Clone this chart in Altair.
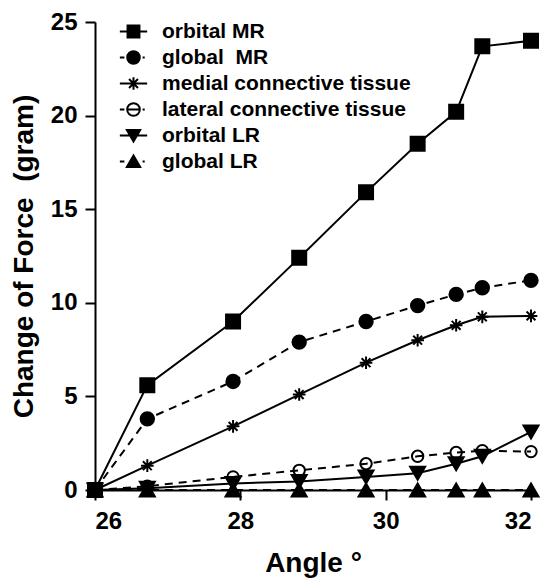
import altair as alt
import pandas as pd

# ---- data ----
angle = [26, 26.72, 27.9, 28.81, 29.73, 30.44, 30.97, 31.33, 32]
orbital_MR = [0, 5.6, 9.0, 12.4, 15.9, 18.5, 20.2, 23.7, 24.0]
global_MR = [0, 3.8, 5.8, 7.9, 9.0, 9.85, 10.45, 10.8, 11.2]
medial_CT = [0, 1.3, 3.4, 5.1, 6.8, 8.0, 8.8, 9.25, 9.3]
lateral_CT = [0, 0.2, 0.7, 1.05, 1.4, 1.8, 2.0, 2.1, 2.05]
orbital_LR = [0, 0.1, 0.35, 0.45, 0.7, 0.9, 1.4, 1.8, 3.1]
global_LR = [0, 0, 0, 0, 0, 0, 0, 0, 0]

names = ["orbital MR", "global\u00a0 MR", "medial connective tissue",
         "lateral connective tissue", "orbital LR", "global LR"]
series_values = [orbital_MR, global_MR, medial_CT, lateral_CT, orbital_LR, global_LR]

x_ticks = [26, 28, 30, 32]
y_ticks = [0, 5, 10, 15, 20, 25]

rows = []
for name, vals in zip(names, series_values):
    for a, v in zip(angle, vals):
        rows.append({"series": name, "angle": a, "value": v})
df = pd.DataFrame(rows)

FONT = "Liberation Sans"
ASTERISK = "M-1,0L1,0M0,-1L0,1M-0.7,-0.7L0.7,0.7M-0.7,0.7L0.7,-0.7"

# per-series styling: (shape, size, fill, dashed)
styles = {
    names[0]: ("square", 196, "black", False),
    names[1]: ("circle", 180, "black", True),
    names[2]: (ASTERISK, 160, "transparent", False),
    names[3]: ("circle", 130, "white", True),
    names[4]: ("triangle-down", 225, "black", False),
    names[5]: ("triangle-up", 225, "black", True),
}

xscale = alt.Scale(domain=[26, 32], nice=False, zero=False)
yscale = alt.Scale(domain=[0, 25], nice=False)
xenc = alt.X("angle:Q", scale=xscale,
             axis=alt.Axis(values=x_ticks, title="Angle °", format="d"))
yenc = alt.Y("value:Q", scale=yscale,
             axis=alt.Axis(values=y_ticks, title="Change of Force\u00a0 (gram)", format="d"))

base = alt.Chart(df)
point_layers = []
line_layers = []
for name in names:
    shape, size, fill, dashed = styles[name]
    sub = base.transform_filter(alt.datum.series == name)
    point_layers.append(
        sub.mark_point(shape=shape, size=size, fill=fill, stroke="black",
                       strokeWidth=2, opacity=1, filled=False)
        .encode(x=xenc, y=yenc)
    )
    line_kwargs = dict(color="black", strokeWidth=2)
    if dashed:
        line_kwargs["strokeDash"] = [8, 6]
    line_layers.append(
        sub.mark_line(**line_kwargs).encode(x=xenc, y=yenc, order="angle:Q")
    )

# legend symbols: marker with its line segment
SOLID = "M-1.95,0L1.95,0"
DASHED = "M-1.95,0L-1.3,0M1.3,0L1.6,0"
SQ = "M-0.85,-0.85L0.85,-0.85L0.85,0.85L-0.85,0.85Z"
CIRC = "M-0.9,0A0.9,0.9 0 1,0 0.9,0A0.9,0.9 0 1,0 -0.9,0Z"
STAR = "M-0.9,0L0.9,0M0,-0.9L0,0.9M-0.64,-0.64L0.64,0.64M-0.64,0.64L0.64,-0.64"
TDOWN = "M-0.95,-0.8L0.95,-0.8L0,0.85Z"
TUP = "M-0.95,0.8L0.95,0.8L0,-0.85Z"
legend_paths = [
    SOLID + SQ,
    DASHED + CIRC,
    SOLID + STAR,
    DASHED + CIRC + "M-0.9,0L0.9,0",
    SOLID + TDOWN,
    DASHED + TUP,
]
legend_fills = ["black", "black", "transparent", "white", "black", "black"]
legend_strokes = ["black"] * 6

leg = dict(orient="none", legendX=28, legendY=-1, title=None,
           labelFont=FONT, labelFontSize=21, labelFontWeight="bold",
           labelColor="black", labelLimit=400, symbolSize=196,
           symbolStrokeWidth=2, rowPadding=4,
           labelOffset=18, padding=0)

legend_layer = (
    base.transform_filter("false")
    .mark_point(strokeWidth=2, opacity=1)
    .encode(
        x=xenc, y=yenc,
        shape=alt.Shape("series:N", scale=alt.Scale(domain=names, range=legend_paths),
                        legend=alt.Legend(**leg)),
        fill=alt.Fill("series:N", scale=alt.Scale(domain=names, range=legend_fills),
                      legend=alt.Legend(**leg)),
        stroke=alt.Stroke("series:N", scale=alt.Scale(domain=names, range=legend_strokes),
                          legend=alt.Legend(**leg)),
    )
)

chart = (
    alt.layer(*point_layers, *line_layers, legend_layer)
    .properties(width=436, height=468,
                autosize=alt.AutoSizeParams(type="none"),
                padding={"left": 95, "top": 22, "right": 14, "bottom": 90})
    .configure_view(stroke=None)
    .configure_axis(
        grid=False, domainColor="black", domainWidth=2, tickColor="black",
        tickWidth=2, tickSize=10, labelFont=FONT, labelFontSize=24,
        labelFontWeight="bold", labelColor="black", titleFont=FONT,
        titleFontSize=28, titleFontWeight="bold", titleColor="black",
    )
    .configure_axisX(labelPadding=9, titlePadding=16)
    .configure_axisY(labelPadding=8, titlePadding=12)
)

chart.save("out.html", embed_options={"renderer": "svg", "actions": False})
